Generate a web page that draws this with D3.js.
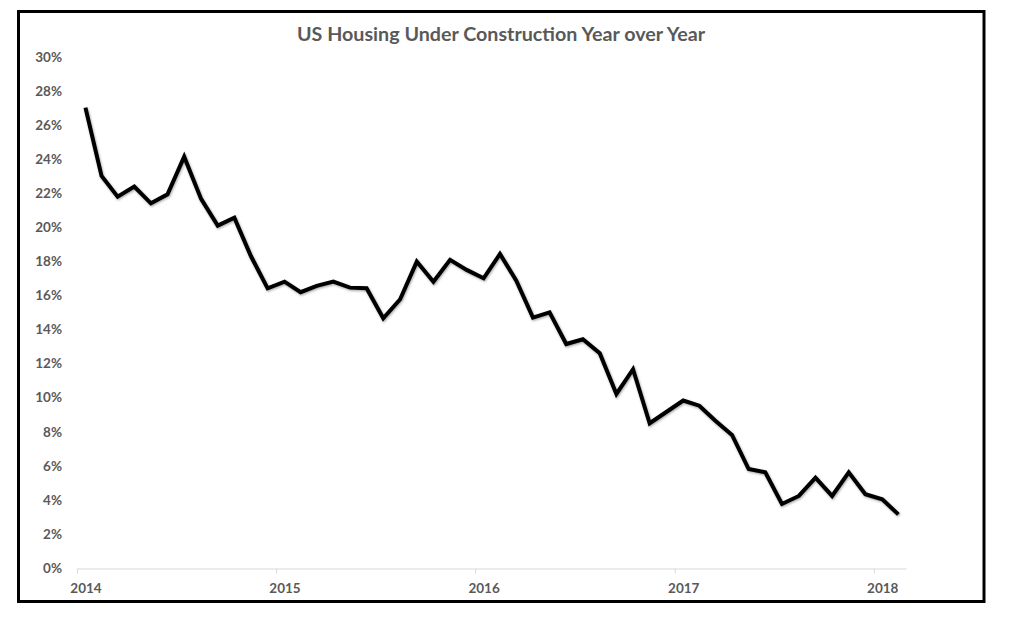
<!DOCTYPE html>
<html><head><meta charset="utf-8">
<script src="https://cdn.jsdelivr.net/npm/d3@7"></script>
<style>body{margin:0;background:#fff}svg{display:block}</style>
</head><body>
<svg id="c" width="1012" height="639"></svg>
<script>
const title = "US Housing Under Construction Year over Year";
const startMonth = "2014-01";
const values = [27.03,23.02,21.8,22.39,21.41,21.94,24.15,21.67,20.1,20.57,18.3,16.42,
  16.81,16.19,16.56,16.81,16.46,16.42,14.66,15.78,17.99,16.81,18.09,17.5,
  17.01,18.44,16.87,14.7,15.01,13.15,13.43,12.61,10.22,11.67,8.5,9.16,
  9.83,9.53,8.65,7.81,5.81,5.62,3.76,4.23,5.3,4.23,5.62,4.33,4.03,3.15];
const yTicks = [0,2,4,6,8,10,12,14,16,18,20,22,24,26,28,30];
const xTickLabels = ["2014","2015","2016","2017","2018"];

const svg = d3.select("#c");
const parse = d3.timeParse("%Y-%m");
const t0 = parse(startMonth);
const data = values.map((v,i)=>({d:d3.timeMonth.offset(t0,i), v}));
const tEnd = d3.timeMonth.offset(t0, values.length);

const x = d3.scaleTime().domain([t0, tEnd]).range([77, 906]);
const y = d3.scaleLinear().domain([0,30]).range([568, 57]);
const mid = d => new Date((d.getTime() + d3.timeMonth.offset(d,1).getTime())/2);
const FONT = "Lato, 'Open Sans', sans-serif";

// border
svg.append("rect").attr("x",18.5).attr("y",11.5).attr("width",965.5).attr("height",590)
  .attr("fill","none").attr("stroke","#000").attr("stroke-width",3);

svg.append("text").attr("x",501).attr("y",41).attr("text-anchor","middle")
  .attr("font-family",FONT).attr("font-weight","bold")
  .attr("font-size",19.7).attr("fill","#595959").text(title);

// y axis labels
const yAxis = d3.axisLeft(y).tickValues(yTicks).tickFormat(d=>d+"%").tickSize(0).tickPadding(0);
const gy = svg.append("g").attr("transform","translate(62,0)").call(yAxis);
gy.select(".domain").remove();
gy.selectAll("text").attr("font-family",FONT).attr("font-weight","bold")
  .attr("font-size",13.5).attr("fill","#595959");

// x axis
const xTickDates = xTickLabels.map(s=>parse(s+"-01"));
const xAxis = d3.axisBottom(x).tickValues(xTickDates).tickFormat(d3.timeFormat("%Y")).tickSizeInner(5).tickSizeOuter(0).tickPadding(10);
const gx = svg.append("g").attr("transform","translate(0,568.5)").call(xAxis);
gx.select(".domain").attr("stroke","#d9d9d9").attr("stroke-width",1.2);
gx.selectAll(".tick line").attr("stroke","#d9d9d9");
gx.selectAll("text").attr("font-family",FONT).attr("font-weight","bold")
  .attr("font-size",13.5).attr("fill","#595959")
  .attr("x", d => x(mid(d)) - x(d));

const defs = svg.append("defs");
const f = defs.append("filter").attr("id","sh").attr("x","-5%").attr("y","-5%").attr("width","110%").attr("height","110%");
f.append("feDropShadow").attr("dx",0.8).attr("dy",1.2).attr("stdDeviation",1).attr("flood-color","#000").attr("flood-opacity",0.35);

const line = d3.line().x(d=>x(mid(d.d))).y(d=>y(d.v));
svg.append("path").datum(data).attr("d",line).attr("fill","none").attr("stroke","#000")
  .attr("stroke-width",4).attr("stroke-linejoin","miter").attr("filter","url(#sh)");
</script>
</body></html>
